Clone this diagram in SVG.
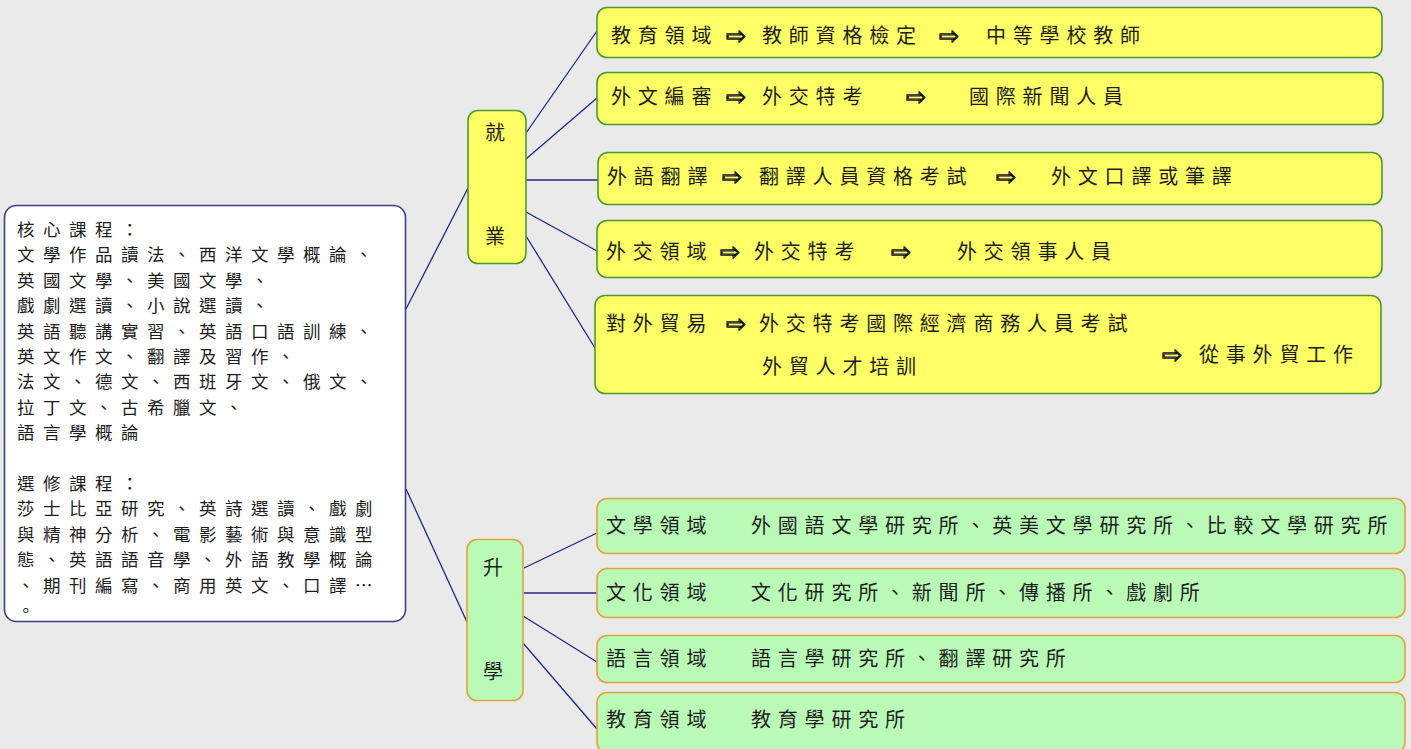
<svg xmlns="http://www.w3.org/2000/svg" width="1411" height="749" viewBox="0 0 1411 749">
<style>
.t{font-family:"Noto Sans CJK TC","Noto Sans CJK SC",sans-serif;font-size:20px;fill:#1e1e1e;letter-spacing:6.8px}
.lt{font-family:"Noto Sans CJK TC","Noto Sans CJK SC",sans-serif;font-size:17.5px;fill:#1e1e1e;letter-spacing:8.5px}
.a{font-family:"DejaVu Sans",sans-serif;font-size:24px;fill:#ffffff;stroke:#111;stroke-width:1.1;stroke-linejoin:round}
.c{text-anchor:middle;letter-spacing:0}
.y{fill:#ffff66;stroke:#4f9a2f;stroke-width:1.6}
.g{fill:#b9fbb6;stroke:#e3a23a;stroke-width:1.6}
.w{fill:#ffffff;stroke:#3d3d8c;stroke-width:1.6}
.ln{stroke:#24248a;stroke-width:1.3;fill:none}
</style>
<rect width="1411" height="749" fill="#eaeaea"/>
<g id="connectors">
<line class="ln" x1="406" y1="309" x2="468" y2="188"/>
<line class="ln" x1="406" y1="489" x2="467" y2="622"/>
<line class="ln" x1="526" y1="133" x2="597" y2="31"/>
<line class="ln" x1="526" y1="159" x2="597" y2="98"/>
<line class="ln" x1="526" y1="180" x2="598" y2="180"/>
<line class="ln" x1="526" y1="212" x2="597" y2="251"/>
<line class="ln" x1="526" y1="236" x2="595" y2="348"/>
<line class="ln" x1="524" y1="568" x2="597" y2="533"/>
<line class="ln" x1="524" y1="593" x2="597" y2="593"/>
<line class="ln" x1="523" y1="616" x2="597" y2="662"/>
<line class="ln" x1="523" y1="643" x2="597" y2="729"/>
</g>
<g id="courses">
<rect class="w" x="4.5" y="205.5" width="401" height="416" rx="12"/>
<text class="lt" x="17" y="236">核心課程：</text>
<text class="lt" x="17" y="261">文學作品讀法、西洋文學概論、</text>
<text class="lt" x="17" y="287">英國文學、美國文學、</text>
<text class="lt" x="17" y="312">戲劇選讀、小說選讀、</text>
<text class="lt" x="17" y="338">英語聽講實習、英語口語訓練、</text>
<text class="lt" x="17" y="363">英文作文、翻譯及習作、</text>
<text class="lt" x="17" y="388">法文、德文、西班牙文、俄文、</text>
<text class="lt" x="17" y="414">拉丁文、古希臘文、</text>
<text class="lt" x="17" y="439">語言學概論</text>
<text class="lt" x="17" y="490">選修課程：</text>
<text class="lt" x="17" y="515">莎士比亞研究、英詩選讀、戲劇</text>
<text class="lt" x="17" y="541">與精神分析、電影藝術與意識型</text>
<text class="lt" x="17" y="566">態、英語語音學、外語教學概論</text>
<text class="lt" x="17" y="592">、期刊編寫、商用英文、口譯…</text>
<text class="lt" x="17" y="617">。</text>
</g>
<g id="employment">
<rect class="y" x="468" y="110.5" width="58" height="153" rx="10"/>
<text class="t c" x="495" y="140">就</text>
<text class="t c" x="495" y="244">業</text>
</g>
<g id="study">
<rect class="g" x="467" y="539.5" width="56" height="161" rx="10"/>
<text class="t c" x="493" y="575">升</text>
<text class="t c" x="493" y="679">學</text>
</g>
<g id="job1">
<rect class="y" x="597" y="7.5" width="785" height="50" rx="10"/>
<text class="t" x="611" y="43">教育領域</text><text class="a" x="726" y="44">⇨</text>
<text class="t" x="762" y="43">教師資格檢定</text><text class="a" x="939" y="44">⇨</text>
<text class="t" x="986" y="43">中等學校教師</text>
</g>
<g id="job2">
<rect class="y" x="597" y="72.5" width="786" height="52" rx="10"/>
<text class="t" x="611" y="104">外文編審</text><text class="a" x="726" y="105">⇨</text>
<text class="t" x="762" y="104">外交特考</text><text class="a" x="906" y="105">⇨</text>
<text class="t" x="969" y="104">國際新聞人員</text>
</g>
<g id="job3">
<rect class="y" x="598" y="152.5" width="784" height="52" rx="10"/>
<text class="t" x="607" y="184">外語翻譯</text><text class="a" x="722" y="185">⇨</text>
<text class="t" x="759" y="184">翻譯人員資格考試</text><text class="a" x="996" y="185">⇨</text>
<text class="t" x="1051" y="184">外文口譯或筆譯</text>
</g>
<g id="job4">
<rect class="y" x="597" y="220.5" width="785" height="57" rx="10"/>
<text class="t" x="606" y="259">外交領域</text><text class="a" x="720" y="260">⇨</text>
<text class="t" x="754" y="259">外交特考</text><text class="a" x="891" y="260">⇨</text>
<text class="t" x="957" y="259">外交領事人員</text>
</g>
<g id="job5">
<rect class="y" x="595" y="295.5" width="786" height="98" rx="10"/>
<text class="t" x="606" y="331">對外貿易</text><text class="a" x="726" y="332">⇨</text>
<text class="t" x="759" y="331">外交特考國際經濟商務人員考試</text>
<text class="t" x="762" y="374">外貿人才培訓</text>
<text class="a" x="1162" y="363">⇨</text>
<text class="t" x="1199" y="362">從事外貿工作</text>
</g>
<g id="study1">
<rect class="g" x="597" y="498.5" width="808" height="55" rx="10"/>
<text class="t" x="606" y="533">文學領域</text>
<text class="t" x="751" y="533">外國語文學研究所、英美文學研究所、比較文學研究所</text>
</g>
<g id="study2">
<rect class="g" x="597" y="568.5" width="808" height="49" rx="10"/>
<text class="t" x="606" y="600">文化領域</text>
<text class="t" x="751" y="600">文化研究所、新聞所、傳播所、戲劇所</text>
</g>
<g id="study3">
<rect class="g" x="597" y="635.5" width="808" height="47" rx="10"/>
<text class="t" x="606" y="666">語言領域</text>
<text class="t" x="751" y="666">語言學研究所、翻譯研究所</text>
</g>
<g id="study4">
<rect class="g" x="597" y="692.5" width="808" height="60" rx="10"/>
<text class="t" x="606" y="727">教育領域</text>
<text class="t" x="751" y="727">教育學研究所</text>
</g>
</svg>
